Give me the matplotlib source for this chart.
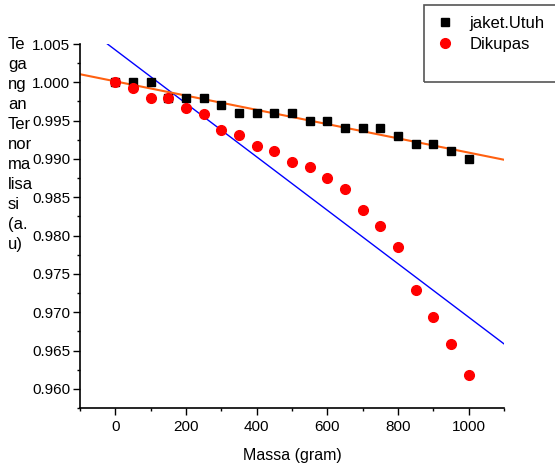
import numpy as np
import matplotlib
matplotlib.use("Agg")
import matplotlib.pyplot as plt
from matplotlib.patches import Rectangle
from matplotlib.ticker import MultipleLocator

plt.rcParams['font.family'] = ['Liberation Sans', 'DejaVu Sans']

massa = [0, 50, 100, 150, 200, 250, 300, 350, 400, 450, 500,
         550, 600, 650, 700, 750, 800, 850, 900, 950, 1000]
jaket_utuh = [1.000, 1.000, 1.000, 0.998, 0.998, 0.998, 0.997, 0.996, 0.996, 0.996, 0.996,
              0.995, 0.995, 0.994, 0.994, 0.994, 0.993, 0.992, 0.992, 0.991, 0.990]
dikupas = [1.000, 0.9993, 0.998, 0.998, 0.9966, 0.9959, 0.9938, 0.9931, 0.9917, 0.9910, 0.9896,
           0.9889, 0.9875, 0.9861, 0.9833, 0.98125, 0.9785, 0.9729, 0.9694, 0.9659, 0.9618]

W, H = 555, 463
fig = plt.figure(figsize=(W / 100, H / 100), dpi=100)
ax = fig.add_axes([80 / W, 1 - 408 / H, (504 - 80) / W, (408 - 44) / H])

xlim = (-100, 1100)
xl = np.array(xlim, dtype=float)

# linear fits
p_utuh = np.polyfit(massa, jaket_utuh, 1)
p_kupas = np.polyfit(massa, dikupas, 1)

ax.plot(xl, np.polyval(p_kupas, xl), color='#0000ff', lw=1.0, zorder=2)
ax.plot(xl, np.polyval(p_utuh, xl), color='#ff6010', lw=1.5, zorder=2)

h1, = ax.plot(massa, jaket_utuh, 's', color='black', ms=6.3, mec='black', zorder=3,
              label='jaket.Utuh')
h2, = ax.plot(massa, dikupas, 'o', color='#ff0000', ms=7, mec='#ff0000', zorder=4,
              label='Dikupas')

ax.set_xlim(*xlim)
ax.set_ylim(0.9575, 1.005)
ax.xaxis.set_major_locator(MultipleLocator(200))
ax.xaxis.set_minor_locator(MultipleLocator(100))
ax.yaxis.set_major_locator(MultipleLocator(0.005))
ax.yaxis.set_minor_locator(MultipleLocator(0.0025))
ax.yaxis.set_major_formatter(matplotlib.ticker.FormatStrFormatter('%.3f'))

for s in ['top', 'right']:
    ax.spines[s].set_visible(False)
for s in ['left', 'bottom']:
    ax.spines[s].set_linewidth(1.2)

ax.tick_params(which='major', direction='out', length=5, width=1.0, labelsize=11, pad=2)
ax.tick_params(which='minor', direction='out', length=2.5, width=1.0)
ax.tick_params(axis='x', which='major', pad=3.5)

ax.set_xlabel('Massa (gram)', fontsize=11.5, labelpad=10)

fig.text(8 / W, 1 - 37 / H, 'Te\nga\nng\nan\nTer\nnor\nma\nlisa\nsi\n(a.\nu)',
         ha='left', va='top', fontsize=12, linespacing=1.42)

# legend box
fig.patches.append(Rectangle((424 / W, 1 - 82 / H), 140 / W, 77 / H,
                             transform=fig.transFigure, fill=False,
                             edgecolor='#555555', lw=1.2))
fig.legend(handles=[h1, h2], loc='upper left', bbox_to_anchor=(437 / W, 1 - 16 / H),
           frameon=False, fontsize=12, handlelength=1.0, handletextpad=0.95,
           labelspacing=0.35, borderaxespad=0, borderpad=0)

fig.savefig('out.png', dpi=100)
